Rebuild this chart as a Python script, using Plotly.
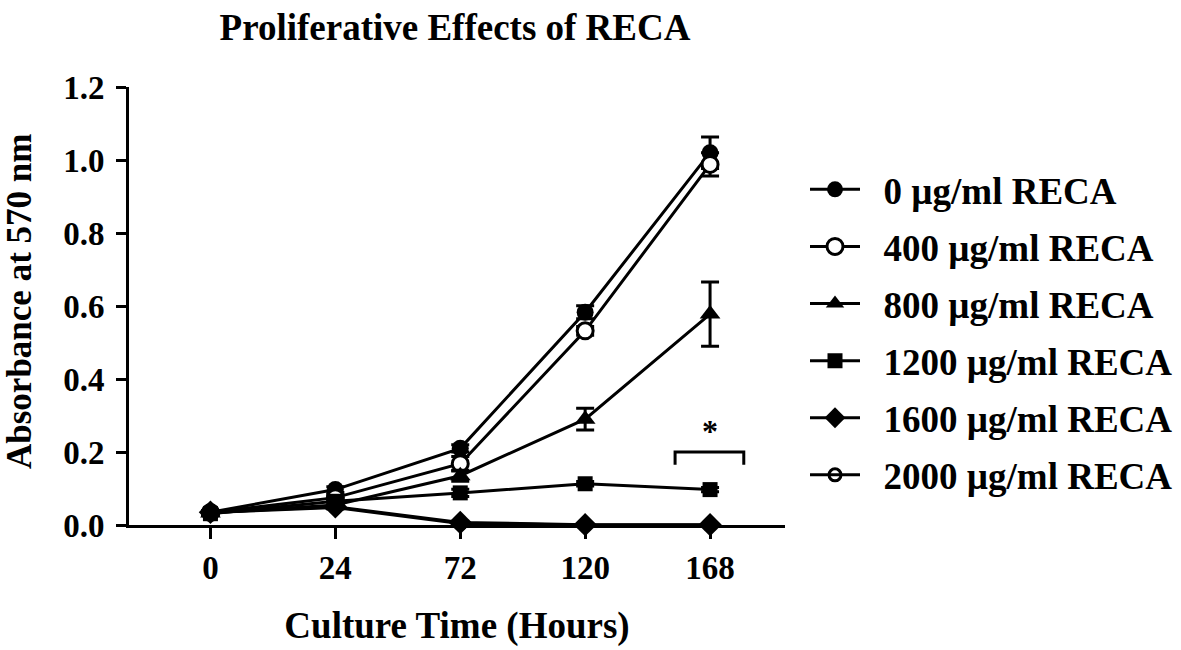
import plotly.graph_objects as go

time_labels = ["0", "24", "72", "120", "168"]
x_pos = [0, 1, 2, 3, 4]

series_names = ["0 µg/ml RECA", "400 µg/ml RECA", "800 µg/ml RECA",
                "1200 µg/ml RECA", "1600 µg/ml RECA", "2000 µg/ml RECA"]
vals_0 = [0.035, 0.097, 0.210, 0.583, 1.020]
vals_400 = [0.034, 0.075, 0.168, 0.532, 0.988]
vals_800 = [0.033, 0.055, 0.135, 0.290, 0.578]
vals_1200 = [0.031, 0.065, 0.088, 0.113, 0.097]
vals_1600 = [0.035, 0.050, 0.007, 0.001, 0.001]
vals_2000 = [0.034, 0.048, 0.004, 0.000, 0.000]

err_0 = [0.005, 0.008, 0.010, 0.018, 0.043]
err_400 = [0.005, 0.008, 0.020, 0.012, 0.032]
err_800 = [0.005, 0.008, 0.015, 0.030, 0.088]
err_1200 = [0.004, 0.008, 0.010, 0.006, 0.006]
err_1600 = [0.004, 0.004, 0.003, 0.001, 0.001]
err_2000 = [0.004, 0.004, 0.003, 0.001, 0.001]

bracket_x = [3.72, 4.27]
bracket_y = [0.165, 0.200]
star_x = 4.0
star_y = 0.258

FONT = "Liberation Serif"
BLACK = "black"

styles = [
    dict(symbol="circle", size=17, color=BLACK, line=dict(color=BLACK, width=0)),
    dict(symbol="circle", size=16, color="white", line=dict(color=BLACK, width=3)),
    dict(symbol="triangle-up", size=18, color=BLACK, line=dict(color=BLACK, width=0)),
    dict(symbol="square", size=15, color=BLACK, line=dict(color=BLACK, width=0)),
    dict(symbol="diamond", size=18, color=BLACK, line=dict(color=BLACK, width=0)),
    dict(symbol="circle-open", size=12, color=BLACK, line=dict(color=BLACK, width=3)),
]
all_vals = [vals_0, vals_400, vals_800, vals_1200, vals_1600, vals_2000]
all_errs = [err_0, err_400, err_800, err_1200, err_1600, err_2000]

fig = go.Figure()
for i, (name, v, e, st) in enumerate(zip(series_names, all_vals, all_errs, styles)):
    fig.add_trace(go.Scatter(
        x=x_pos, y=v, name=f"\u00a0\u00a0<b>{name}</b>", mode="lines+markers",
        legendgroup=f"g{i}",
        line=dict(color=BLACK, width=3),
        marker=st,
        error_y=dict(type="data", array=e, visible=True, color=BLACK,
                     thickness=3, width=9),
        cliponaxis=False,
    ))

# significance bracket
fig.add_shape(type="path", xref="x", yref="y",
              path=(f"M {bracket_x[0]} {bracket_y[0]} L {bracket_x[0]} {bracket_y[1]} "
                    f"L {bracket_x[1]} {bracket_y[1]} L {bracket_x[1]} {bracket_y[0]}"),
              line=dict(color=BLACK, width=3))
fig.add_annotation(x=star_x, y=star_y, xref="x", yref="y", text="<b>*</b>",
                   showarrow=False, font=dict(family=FONT, size=32, color=BLACK))

L, R, T, B = 129, 396, 87, 125
plot_w = 1181 - L - R
plot_h = 650 - T - B

# y-axis title as rotated annotation
fig.add_annotation(x=(19 - L) / plot_w, y=(650 - B - 302) / plot_h, xref="paper", yref="paper",
                   text="<b>Absorbance at 570 nm</b>", textangle=-90, showarrow=False,
                   xanchor="center", yanchor="middle",
                   font=dict(family=FONT, size=35, color=BLACK))

fig.update_layout(
    width=1181, height=650,
    paper_bgcolor="white", plot_bgcolor="white",
    margin=dict(l=L, r=R, t=T, b=B, autoexpand=False),
    font=dict(family=FONT, color=BLACK),
    title=dict(text="<b>Proliferative Effects of RECA</b>", x=455/1181, xanchor="center",
               y=1 - 27/650, yanchor="middle", font=dict(family=FONT, size=37, color=BLACK)),
    showlegend=True,
    legend=dict(x=(805 - L) / plot_w, xanchor="left", y=0.44, yanchor="middle",
                font=dict(family=FONT, size=37, color=BLACK),
                tracegroupgap=6, bgcolor="rgba(0,0,0,0)",
                itemwidth=50),
    xaxis=dict(range=[-0.652, 4.6], tickmode="array", tickvals=x_pos,
               ticktext=[f"<b>{t}</b>" for t in time_labels],
               showgrid=False, zeroline=False, showline=True, linecolor=BLACK, linewidth=3,
               ticks="outside", ticklen=11, tickwidth=3, tickcolor=BLACK,
               tickfont=dict(family=FONT, size=33, color=BLACK),
               title=dict(text="<b>Culture Time (Hours)</b>", standoff=28,
                          font=dict(family=FONT, size=37, color=BLACK))),
    yaxis=dict(range=[0, 1.2], tickmode="array",
               tickvals=[0, 0.2, 0.4, 0.6, 0.8, 1.0, 1.2],
               ticktext=["<b>0.0</b>", "<b>0.2</b>", "<b>0.4</b>", "<b>0.6</b>",
                         "<b>0.8</b>", "<b>1.0</b>", "<b>1.2</b>"],
               showgrid=False, zeroline=False, showline=True, linecolor=BLACK, linewidth=3,
               ticks="outside", ticklen=10, tickwidth=3, tickcolor=BLACK,
               ticklabelstandoff=5,
               tickfont=dict(family=FONT, size=33, color=BLACK)),
)

fig.write_html("out.html", config={"displayModeBar": False},
               post_script="document.body.style.margin='0';")
